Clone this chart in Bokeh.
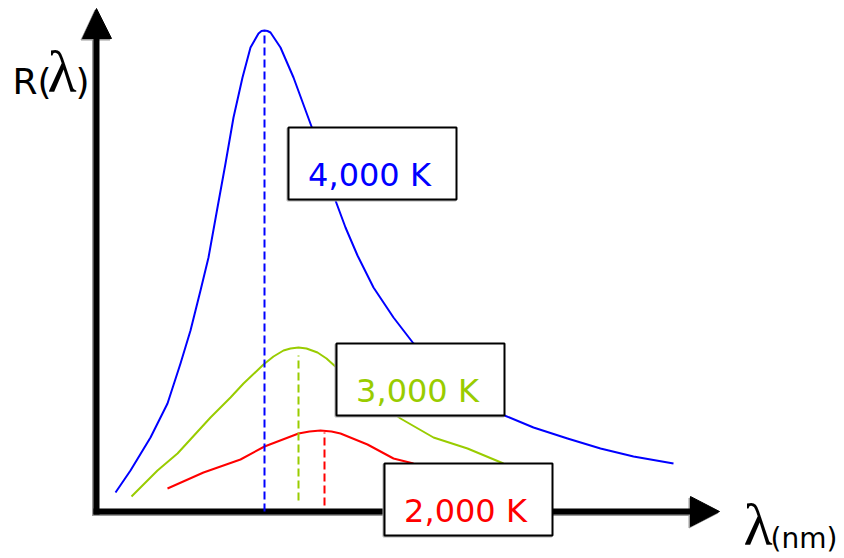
from bokeh.plotting import figure
from bokeh.models import Range1d
from bokeh.embed import file_html
from bokeh.resources import INLINE

# ---- data (arbitrary wavelength units, arbitrary radiance units) ----
blue_x = [19, 34, 54, 71, 84, 94, 104, 112, 121, 129, 137, 146, 154, 158, 162, 165, 168, 171, 174, 184,
          197, 215, 227, 239, 249, 261, 277, 297, 317, 344, 374, 408, 437, 471, 504, 537, 577]
blue_y = [19, 41, 74, 108, 148, 181, 221, 254, 304, 348, 394, 434, 464, 471, 478, 480.5, 481, 480.5, 479, 464,
          434, 385, 348, 311, 284, 256, 224, 194, 168, 141, 116, 96, 84, 73, 63, 55, 48]

green_x = [35, 61, 81, 114, 134, 147, 167, 177, 187, 194, 202, 210, 221, 230, 240, 269, 304, 337, 371, 407]
green_y = [15, 41, 58, 94, 114, 128, 147, 155, 161, 163, 164, 163, 159, 153, 144, 119, 93, 74, 63, 48]

red_x = [71, 107, 144, 168, 202, 213, 224, 235, 244, 271, 297, 317]
red_y = [23, 39, 52, 65, 78, 80, 81, 80, 78, 67, 53, 48]

labels = ["4,000 K", "3,000 K", "2,000 K"]
colors = ["#0000FF", "#99CC00", "#FF0000"]
peak_x = [168, 202, 228]
dash_top = [481, 156, 79]
dash_bottom = [0, 11, 6]

# label boxes (layout)
box_left = [192, 240, 288]
box_right = [360, 408, 456]
box_top = [384, 168, 48]
box_bottom = [312, 96, -24]

p = figure(width=844, height=558, output_backend="svg", toolbar_location=None,
           x_range=Range1d(-96, 748), y_range=Range1d(-47, 511),
           min_border=0, min_border_left=0, min_border_right=0,
           min_border_top=0, min_border_bottom=0)
p.axis.visible = False
p.grid.visible = False
p.outline_line_color = None
p.background_fill_color = "white"
p.border_fill_color = "white"

# ---- axes with arrows (shadow then black) ----
for dx, dy, col in [(-1.5, -1.5, "#9a9a9a"), (0, 0, "black")]:
    p.segment(x0=[0 + dx, -3 + dx], y0=[-3 + dy, 0 + dy], x1=[0 + dx, 594 + dx], y1=[473 + dy, 0 + dy],
              line_color=col, line_width=6, line_cap="butt")
    p.patches(xs=[[-14 + dx, 15 + dx, 0 + dx], [594 + dx, 594 + dx, 623 + dx]],
              ys=[[473 + dy, 473 + dy, 503 + dy], [15 + dy, -15 + dy, 0 + dy]],
              fill_color=col, line_color=col, line_width=1)

# ---- curves ----
p.line(blue_x, blue_y, line_color=colors[0], line_width=2, line_join="round")
p.line(green_x, green_y, line_color=colors[1], line_width=2, line_join="round")
p.line(red_x, red_y, line_color=colors[2], line_width=2, line_join="round")

# ---- peak dashed lines ----
p.segment(x0=peak_x, y0=dash_bottom, x1=peak_x, y1=dash_top, line_color=colors,
          line_width=2, line_dash="8 4")

# ---- label boxes ----
p.quad(left=[l - 1 for l in box_left], right=[r - 1 for r in box_right],
       top=[t - 1 for t in box_top], bottom=[b - 1 for b in box_bottom],
       fill_color=None, line_color="#b0b0b0", line_width=2)
p.quad(left=box_left, right=box_right, top=box_top, bottom=box_bottom,
       fill_color="white", line_color="black", line_width=2)

text_x = [(l + r) / 2 - 3 for l, r in zip(box_left, box_right)]
text_y = [b + 25 for b in box_bottom]
p.text(x=text_x, y=text_y, text=labels, text_color=colors,
       text_font={"value": "DejaVu Sans"}, text_font_size="32px",
       text_align="center", text_baseline="middle")

# ---- axis titles ----
p.text(x=[-84], y=[430], text=["R("], text_color="black", text_font={"value": "DejaVu Sans"},
       text_font_size="36px", text_align="left", text_baseline="middle")
p.text(x=[-49], y=[440], text=["\u03bb"], text_color="black", text_font={"value": "Liberation Serif"},
       text_font_size="60px", text_align="left", text_baseline="middle")
p.text(x=[-21], y=[430], text=[")"], text_color="black", text_font={"value": "DejaVu Sans"},
       text_font_size="36px", text_align="left", text_baseline="middle")

p.text(x=[647], y=[-13], text=["\u03bb"], text_color="black", text_font={"value": "Liberation Serif"},
       text_font_size="60px", text_align="left", text_baseline="middle")
p.text(x=[674], y=[-27], text=["(nm)"], text_color="black", text_font={"value": "DejaVu Sans"},
       text_font_size="28px", text_align="left", text_baseline="middle")

open("out.html", "w").write(file_html(p, INLINE))
